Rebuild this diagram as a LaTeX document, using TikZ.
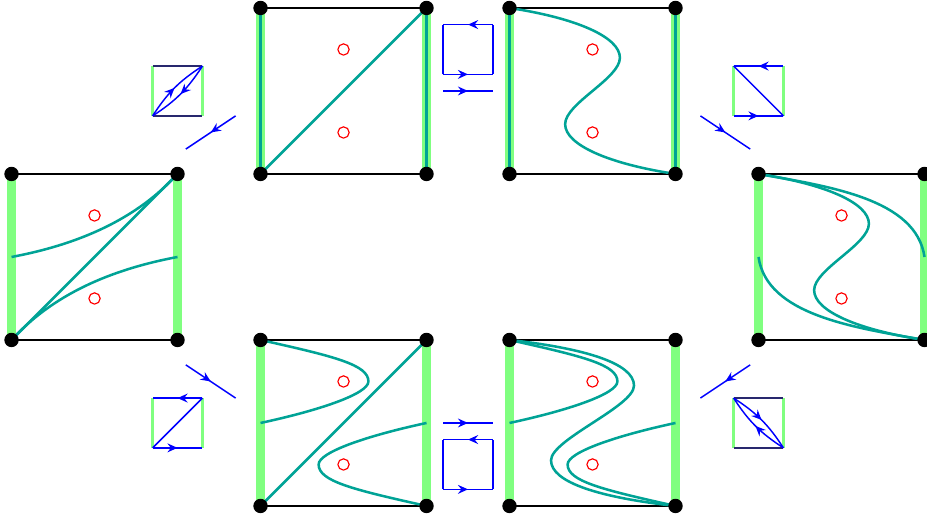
\documentclass[tikz,border=0pt]{standalone}
\usepackage{xcolor}
\usepackage{tikz}
\usetikzlibrary{arrows.meta,backgrounds,decorations.markings}
\definecolor{curvec}{RGB}{0,163,150}
\definecolor{navyedge}{RGB}{40,40,110}

\begin{document}
\begin{tikzpicture}[x=1.5cm,y=1.5cm,>=Stealth,
  dot/.style={circle,fill,inner sep=0pt,minimum size=7.4pt},
  side/.style={line width=5pt,green!50},
  edge/.style={line width=1.1pt},
  crv/.style={line width=1.3pt,curvec},
  hole/.style={red,line width=.6pt},
  sside/.style={line width=1.3pt,green!50},
  sedge/.style={line width=.9pt,navyedge},
  lp/.style={blue,line width=.75pt},
  mv/.style={lp,postaction={decorate},decoration={markings,
    mark=at position .5 with {\arrow{Stealth[length=5.2pt,width=4.6pt,inset=1.8pt]}}}}]
\useasboundingbox (-5.639,-3.145) rectangle (5.530,3.096);
\foreach \x/\y/\n in {-4.5/0/l,-1.5/2/ul,1.5/2/ur,4.5/0/r,-1.5/-2/dl,1.5/-2/dr}{
  \begin{scope}[shift={(\x,\y)}]
    \node[dot] (\n-sw) at (-1,-1) {};
    \node[dot] (\n-se) at (1,-1) {};
    \node[dot] (\n-nw) at (-1,1) {};
    \node[dot] (\n-ne) at (1,1) {};
    \draw[hole] (0,.5) circle (2.9pt) (0,-.5) circle (2.9pt);
    \begin{scope}[on background layer]
      \draw[side] (\n-sw.center) -- (\n-nw.center) (\n-se.center) -- (\n-ne.center);
      \draw[edge] (\n-sw.center) -- (\n-se.center) (\n-nw.center) -- (\n-ne.center);
    \end{scope}
  \end{scope}}
\begin{scope}[on background layer]
  \draw[crv] (l-sw.center) -- (l-ne.center);
  \draw[crv] (ul-sw.center) -- (ul-ne.center);
  \draw[crv] (dl-sw.center) -- (dl-ne.center);
  \foreach \n in {ul,ur}{
    \draw[crv] (\n-sw.center) -- (\n-nw.center) (\n-se.center) -- (\n-ne.center);}
  \begin{scope}[shift={(-4.5,0)}]
    \draw[crv] (-1,0) .. controls (-.2,.15) and (.5,.45) .. (1,1);
    \draw[crv] (1,0) .. controls (.2,-.15) and (-.5,-.45) .. (-1,-1);
  \end{scope}
  \foreach \x/\y in {1.5/2,4.5/0}{
    \draw[crv,shift={(\x,\y)}] (-1,1) .. controls (-.2,.88) and (.33,.65) .. (.33,.4)
      .. controls (.33,.15) and (-.33,-.15) .. (-.33,-.4)
      .. controls (-.33,-.65) and (.2,-.88) .. (1,-1);}
  \begin{scope}[shift={(4.5,0)}]
    \draw[crv] (-1,1) .. controls (-.15,.85) and (.9,.7) .. (1,0);
    \draw[crv] (1,-1) .. controls (.15,-.85) and (-.9,-.7) .. (-1,0);
  \end{scope}
  \foreach \x in {-1.5,1.5}{
    \begin{scope}[shift={(\x,-2)}]
      \draw[crv] (-1,1) .. controls (-.1,.8) and (.3,.7) .. (.3,.5)
        .. controls (.3,.35) and (-.3,.15) .. (-1,0);
      \draw[crv] (1,-1) .. controls (.1,-.8) and (-.3,-.7) .. (-.3,-.5)
        .. controls (-.3,-.35) and (.3,-.15) .. (1,0);
    \end{scope}}
  \draw[crv,shift={(1.5,-2)}] (-1,1) .. controls (-.1,.9) and (.5,.72) .. (.5,.45)
    .. controls (.5,.2) and (-.5,-.2) .. (-.5,-.45)
    .. controls (-.5,-.72) and (.1,-.9) .. (1,-1);
\end{scope}
\foreach \x/\y in {-3.5/2,3.5/2,-3.5/-2,3.5/-2,0/2.5,0/-2.5}{
  \begin{scope}[shift={(\x,\y)}]
    \draw[sside] (-.3,-.3) -- (-.3,.3) (.3,-.3) -- (.3,.3);
  \end{scope}}
\begin{scope}[shift={(-3.5,2)}]
  \draw[sedge] (-.3,-.3) -- (.3,-.3) (-.3,.3) -- (.3,.3);
  \draw[mv] (-.3,-.3) to[bend left=12] (.3,.3);
  \draw[mv] (.3,.3) to[bend left=12] (-.3,-.3);
\end{scope}
\begin{scope}[shift={(3.5,-2)}]
  \draw[sedge] (-.3,-.3) -- (.3,-.3) (-.3,.3) -- (.3,.3);
  \draw[mv] (-.3,.3) to[bend left=12] (.3,-.3);
  \draw[mv] (.3,-.3) to[bend left=12] (-.3,.3);
\end{scope}
\foreach \x/\y in {3.5/2,-3.5/-2,0/2.5,0/-2.5}{
  \begin{scope}[shift={(\x,\y)}]
    \draw[mv] (.3,.3) -- (-.3,.3);
    \draw[mv] (-.3,-.3) -- (.3,-.3);
  \end{scope}}
\draw[lp] (3.2,2.3) -- (3.8,1.7);
\draw[lp] (-3.8,-2.3) -- (-3.2,-1.7);
\foreach \y in {2.5,-2.5}{
  \draw[lp] (-.3,\y-.3) -- (-.3,\y+.3) (.3,\y-.3) -- (.3,\y+.3);}
\coordinate (t1a) at (-2.8,1.7);  \coordinate (t1b) at (-3.4,1.3);
\coordinate (t2a) at (-.3,2);     \coordinate (t2b) at (.3,2);
\coordinate (t3a) at (2.8,1.7);   \coordinate (t3b) at (3.4,1.3);
\coordinate (b1a) at (-3.4,-1.3); \coordinate (b1b) at (-2.8,-1.7);
\coordinate (b2a) at (-.3,-2);    \coordinate (b2b) at (.3,-2);
\coordinate (b3a) at (3.4,-1.3);  \coordinate (b3b) at (2.8,-1.7);
\foreach \a in {t1,t2,t3,b1,b2,b3}\draw[mv] (\a a) -- (\a b);
\end{tikzpicture}
\end{document}
